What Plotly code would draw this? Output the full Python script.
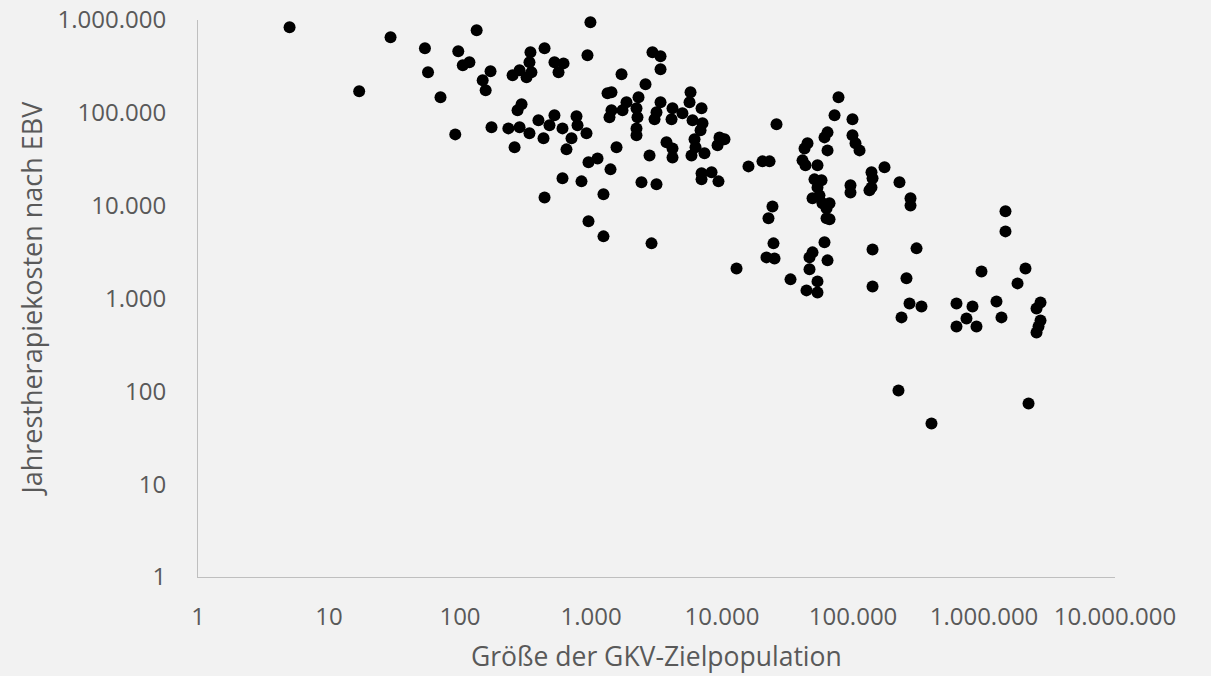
import plotly.graph_objects as go

# GKV target population size (x) and annual therapy cost per EBV (y)
population = [
    5, 29.5, 54, 97, 105, 118, 57, 17, 71, 92,
    134, 990, 171, 149, 157, 345, 442, 339, 351, 252,
    285, 322, 526, 617, 565, 940, 1710, 295, 275, 174,
    234, 285, 339, 397, 434, 261, 526, 482, 606, 775,
    789, 710, 924, 650, 1337, 1433, 1384, 1433, 1740, 1866,
    1566, 957, 1122, 1409, 606, 846, 1245, 442, 957, 1245,
    2946, 3394, 3394, 2607, 2305, 2225, 2264, 2225, 2225, 3394,
    3162, 3055, 4190, 4120, 5750, 5650, 6980, 4990, 5960, 7100,
    6860, 6170, 6280, 5850, 7350, 9570, 10450, 9250, 3770, 4190,
    4190, 2797, 15930, 20370, 23070, 6980, 6980, 8320, 9400, 2428,
    3162, 2897, 77500, 72300, 99100, 26070, 63900, 60600, 99100, 104500,
    112200, 44950, 42660, 63900, 41180, 43360, 53580, 50800, 57500, 53580,
    49090, 55480, 58480, 66180, 62810, 62810, 66180, 95700, 95700, 138400,
    141000, 138400, 133600, 174000, 226400, 24280, 22640, 24720, 21860, 25170,
    12910, 33340, 60600, 49090, 46560, 63900, 46560, 53580, 44150, 53580,
    141000, 141000, 274800, 274800, 1459000, 1459000, 305500, 256000, 957000, 2074000,
    1803000, 270000, 333300, 234600, 616700, 817000, 735000, 616700, 876500, 1245000,
    1360000, 2700000, 2517000, 2700000, 2607000, 2517000, 222400, 2188000, 397300,
]
annual_cost = [
    834000, 651000, 495000, 460000, 325000, 350000, 273000, 171000, 147000, 58600,
    774000, 944000, 280000, 224000, 175000, 449000, 495000, 350000, 273000, 254000,
    287000, 241000, 350000, 341000, 273000, 417000, 260000, 123600, 106400, 69800,
    68000, 69800, 60100, 83000, 53100, 42500, 94000, 73300, 68000, 91700,
    73300, 53100, 60100, 40400, 162200, 166300, 89500, 106400, 106400, 129800,
    42500, 29300, 32300, 24600, 19700, 18270, 13240, 12280, 6780, 4670,
    449000, 406000, 294000, 203000, 147000, 111800, 89500, 68000, 57200, 129800,
    101200, 85100, 111800, 85100, 166300, 129800, 111800, 98800, 83000, 77100,
    64800, 51800, 42500, 34800, 36600, 54400, 51800, 44700, 48100, 41400,
    33100, 34800, 26500, 30000, 30000, 22300, 19200, 22850, 18270, 17830,
    16980, 3925, 147000, 94000, 85100, 75200, 61600, 54400, 57200, 46900,
    39400, 46900, 41400, 39400, 30760, 27180, 27180, 19200, 18740, 15740,
    11990, 12910, 10590, 10590, 9350, 7300, 7120, 16550, 13900, 22850,
    19700, 15740, 14620, 25880, 17830, 9820, 7300, 3925, 2773, 2704,
    2110, 1607, 4025, 3140, 2773, 2575, 2060, 1529, 1223, 1163,
    3380, 1350, 11990, 10070, 8690, 5285, 3467, 1648, 1959, 2110,
    1455, 885, 822, 626, 885, 822, 610, 500, 500, 930,
    626, 908, 782, 581, 500, 431, 102, 74, 45,
]

x_tick_vals = [1, 10, 100, 1000, 10000, 100000, 1000000, 10000000]
x_tick_text = ["1", "10", "100", "1.000", "10.000", "100.000", "1.000.000", "10.000.000"]
y_tick_vals = [1, 10, 100, 1000, 10000, 100000, 1000000]
y_tick_text = ["1", "10", "100", "1.000", "10.000", "100.000", "1.000.000"]

x_title = "Größe der GKV-Zielpopulation"
y_title = "Jahrestherapiekosten nach EBV"

FONT = "Open Sans"
TEXT = "#595959"
BG = "#f2f2f2"
LINE = "#bfbfbf"

fig = go.Figure()
fig.add_trace(go.Scatter(
    x=population, y=annual_cost, mode="markers",
    marker=dict(color="#000000", size=12, line=dict(width=0)),
    showlegend=False, hoverinfo="x+y", cliponaxis=False,
))

axis_common = dict(
    type="log", showgrid=False, zeroline=False, showline=True,
    linecolor=LINE, linewidth=1, ticks="", automargin=False,
    tickfont=dict(family=FONT, size=24, color=TEXT),
)

fig.update_layout(
    width=1211, height=676, autosize=False,
    margin=dict(l=198, r=96, t=20, b=99, pad=0),
    paper_bgcolor=BG, plot_bgcolor=BG,
    font=dict(family=FONT, color=TEXT),
    xaxis=dict(axis_common, range=[0, 7], tickvals=x_tick_vals,
               ticktext=x_tick_text, ticklabelstandoff=18),
    yaxis=dict(axis_common, range=[0, 6], tickvals=y_tick_vals,
               ticktext=y_tick_text, ticklabelstandoff=26),
    annotations=[
        dict(text=x_title, xref="paper", yref="paper", x=0.5, y=-0.1425,
             xanchor="center", yanchor="middle", showarrow=False,
             font=dict(family=FONT, size=26.5, color=TEXT)),
        dict(text=y_title, xref="paper", yref="paper", x=-0.182, y=0.5,
             xanchor="center", yanchor="middle", showarrow=False, textangle=-90,
             font=dict(family=FONT, size=27, color=TEXT)),
    ],
)

fig.write_html("out.html", config={"displayModeBar": False})
